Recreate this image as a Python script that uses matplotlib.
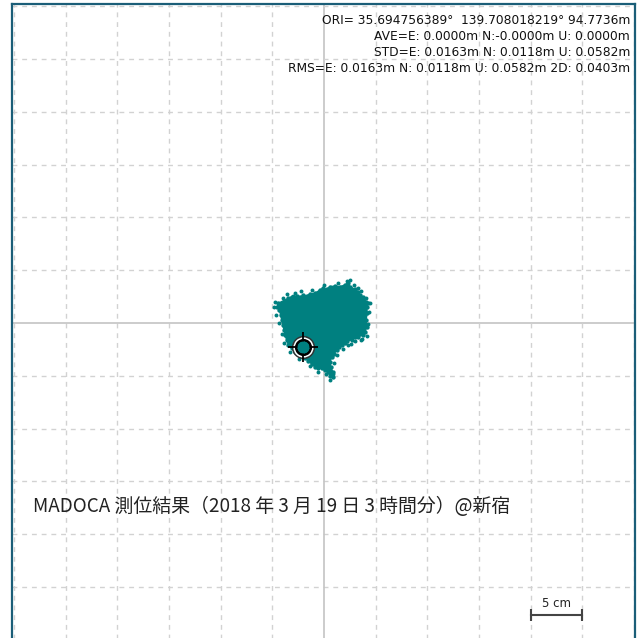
import numpy as np
import matplotlib
matplotlib.use("Agg")
import matplotlib.pyplot as plt
from matplotlib.patches import Polygon

# outline of the position cloud, east / north offsets in metres
cloud_e = [-0.0442, -0.0345, -0.0312, -0.0264, -0.0232, -0.0200, -0.0167, -0.0135,
           -0.0087, -0.0039, -0.0007, 0.0026, 0.0058, 0.0106, 0.0155, 0.0203, 0.0235,
           0.0251, 0.0300, 0.0332, 0.0348, 0.0380, 0.0406, 0.0428, 0.0413, 0.0419,
           0.0406, 0.0413, 0.0399, 0.0380, 0.0332, 0.0300, 0.0268, 0.0225, 0.0203,
           0.0171, 0.0148, 0.0123, 0.0097, 0.0074, 0.0058, 0.0065, 0.0084, 0.0084,
           0.0058, 0.0042, 0.0010, -0.0022, -0.0055, -0.0087, -0.0119, -0.0152,
           -0.0184, -0.0216, -0.0249, -0.0280, -0.0312, -0.0345, -0.0361, -0.0377,
           -0.0387, -0.0399, -0.0409, -0.0419, -0.0432, -0.0452]
cloud_n = [0.0187, 0.0234, 0.0249, 0.0256, 0.0243, 0.0265, 0.0256, 0.0275,
           0.0281, 0.0313, 0.0329, 0.0319, 0.0344, 0.0350, 0.0344, 0.0360, 0.0382,
           0.0344, 0.0319, 0.0296, 0.0265, 0.0243, 0.0202, 0.0187, 0.0154, 0.0092,
           0.0028, -0.0035, -0.0082, -0.0114, -0.0130, -0.0135, -0.0161, -0.0168, -0.0192,
           -0.0208, -0.0230, -0.0256, -0.0294, -0.0325, -0.0366, -0.0414, -0.0461, -0.0514,
           -0.0502, -0.0461, -0.0445, -0.0429, -0.0429, -0.0414, -0.0388, -0.0357,
           -0.0334, -0.0313, -0.0287, -0.0272, -0.0240, -0.0208, -0.0161, -0.0114,
           -0.0066, -0.0019, 0.0028, 0.0076, 0.0123, 0.0154]

# stray fixes around the edge of the cloud
stray_e = [-0.0470, -0.0400, -0.0360, -0.0280, -0.0220, -0.0120, 0.0000, 0.0140,
           0.0220, 0.0290, 0.0360, 0.0410, 0.0450, 0.0440, 0.0430, 0.0420, 0.0360,
           0.0300, 0.0230, 0.0180, 0.0130, 0.0100, 0.0090, 0.0060, 0.0020, -0.0060,
           -0.0140, -0.0240, -0.0330, -0.0390, -0.0410, -0.0440, -0.0460, -0.0480,
           0.0250, 0.0330, 0.0370, 0.0260, -0.0300]
stray_n = [0.0200, 0.0240, 0.0270, 0.0280, 0.0300, 0.0310, 0.0360, 0.0380,
           0.0400, 0.0360, 0.0300, 0.0240, 0.0190, 0.0100, -0.0010, -0.0120, -0.0160,
           -0.0170, -0.0210, -0.0250, -0.0300, -0.0380, -0.0480, -0.0540, -0.0480, -0.0460,
           -0.0410, -0.0340, -0.0270, -0.0190, -0.0100, 0.0000, 0.0080, 0.0150,
           0.0410, 0.0330, -0.0150, -0.0200, 0.0260]

# reference point marker
ref_e = [-0.0200]
ref_n = [-0.0224]

stats = [
    "ORI= 35.694756389°  139.708018219° 94.7736m",
    "AVE=E: 0.0000m N:-0.0000m U: 0.0000m",
    "STD=E: 0.0163m N: 0.0118m U: 0.0582m",
    "RMS=E: 0.0163m N: 0.0118m U: 0.0582m 2D: 0.0403m",
]
caption = "MADOCA 測位結果（2018 年 3 月 19 日 3 時間分）@新宿"

teal = "#008080"

fig = plt.figure(figsize=(6.39, 6.38), dpi=100)
ax = fig.add_axes([0.01956, -0.00627, 0.97496, 1.0])
ax.set_xlim(-0.3015, 0.3015)
ax.set_ylim(-0.302, 0.302)

# 5 cm grid
ticks = np.arange(-0.30, 0.301, 0.05)
for t in ticks:
    if abs(t) < 1e-9:
        ax.axvline(0, color="#c4c4c4", lw=1.2, zorder=1)
        ax.axhline(0, color="#c4c4c4", lw=1.2, zorder=1)
    else:
        ax.axvline(t, color="#d2d2d2", lw=1.0, ls=(0, (3.5, 3.5)), zorder=1)
        ax.axhline(t, color="#d2d2d2", lw=1.0, ls=(0, (3.5, 3.5)), zorder=1)
ax.set_xticks([])
ax.set_yticks([])

ax.add_patch(Polygon(np.column_stack([cloud_e, cloud_n]), closed=True,
                     facecolor=teal, edgecolor=teal, lw=1.0, zorder=2))
ax.scatter(cloud_e, cloud_n, s=10, color=teal, lw=0, zorder=2)
ax.scatter(stray_e, stray_n, s=8, color=teal, lw=0, zorder=2)

# target marker: rings, crosshair, teal centre
ax.plot(ref_e, ref_n, marker="o", ms=15.5, mfc="none", mec="#333333", mew=1.2, zorder=3)
ax.plot(ref_e, ref_n, marker="o", ms=13, mfc="none", mec="white", mew=1.5, zorder=3)
ax.plot(ref_e, ref_n, marker="o", ms=10.5, mfc="none", mec="black", mew=1.8, zorder=3)
ax.plot(ref_e, ref_n, marker="+", ms=21, mew=1.3, color="black", zorder=4)
ax.plot(ref_e, ref_n, marker="o", ms=8.5, mfc=teal, mec="none", zorder=5)

for spine in ax.spines.values():
    spine.set_color("#1b5e78")
    spine.set_linewidth(1.6)

for i, line in enumerate(stats):
    fig.text(630 / 639, 1 - (20 + 16 * i) / 638, line, ha="right", va="center",
             fontsize=8.8, color="#111111", family="DejaVu Sans")

fig.text(33 / 639, 1 - 507 / 638, caption, ha="left", va="center", fontsize=13.6,
         color="#222222", family=["Noto Sans CJK JP", "DejaVu Sans"])

# 5 cm scale bar
ax.plot([0.20, 0.25], [-0.2765, -0.2765], color="#444444", lw=1.5, zorder=3)
ax.plot([0.20, 0.25], [-0.2765, -0.2765], ls="none", marker="|", ms=9, mew=1.5,
        color="#444444", zorder=3)
ax.text(0.225, -0.266, "5 cm", ha="center", va="center", fontsize=8.5, color="#222222")

fig.savefig("out.png", dpi=100)
